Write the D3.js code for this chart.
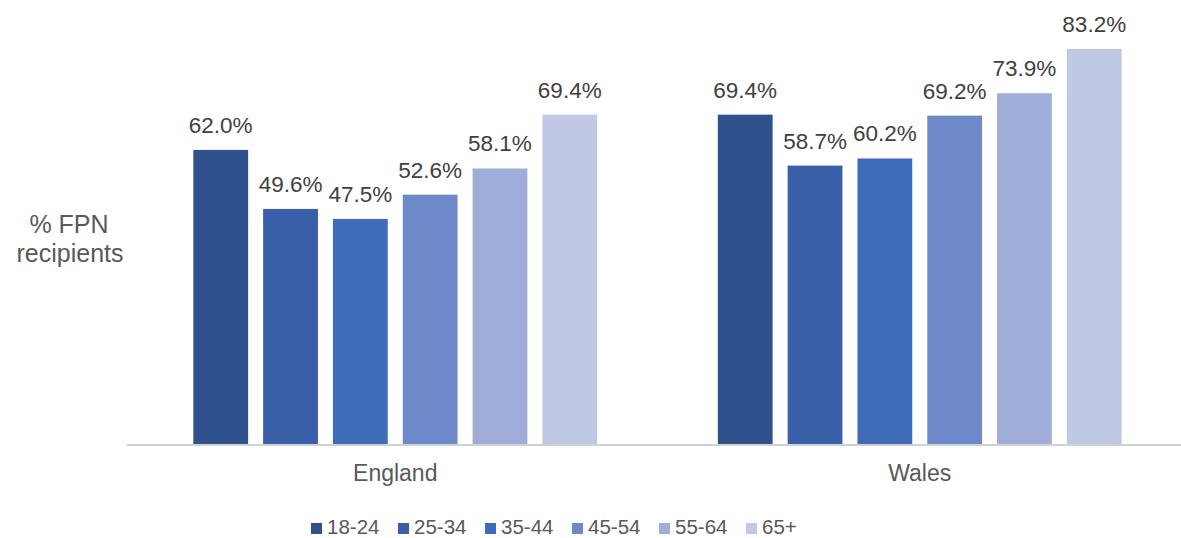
<!DOCTYPE html>
<html>
<head>
<meta charset="utf-8">
<script src="https://cdn.jsdelivr.net/npm/d3@7"></script>
<style>
  body { margin: 0; background: #fff; }
  text { font-family: "Liberation Sans", Arial, sans-serif; fill: #595959; }
</style>
</head>
<body>
<script>
// chart data
var regions = ["England", "Wales"];
var ageGroups = ["18-24", "25-34", "35-44", "45-54", "55-64", "65+"];
var england = [62.0, 49.6, 47.5, 52.6, 58.1, 69.4];
var wales = [69.4, 58.7, 60.2, 69.2, 73.9, 83.2];
var colours = ["#2F518C", "#385FA7", "#3E6BBA", "#6E89CA", "#9EAED8", "#BFC9E4"];

var width = 1181, height = 538;
var margin = {top: 10, right: 0, bottom: 93, left: 130};

var svg = d3.select("body").append("svg")
  .attr("width", width)
  .attr("height", height);

var rows = [england, wales].map(function(vals, i) {
  return {region: regions[i], values: vals.map(function(v, j) { return {age: ageGroups[j], value: v}; })};
});

// scales
var x0 = d3.scaleBand()
  .domain(regions)
  .range([margin.left + 3, width + 1])
  .paddingInner(0)
  .paddingOuter(0);

var x1 = d3.scaleBand()
  .domain(ageGroups)
  .range([x0.bandwidth() * 0.115, x0.bandwidth() * 0.885])
  .paddingInner(0.215);

var y = d3.scaleLinear()
  .domain([0, 83.2])
  .range([height - margin.bottom, 49]);

var colour = d3.scaleOrdinal().domain(ageGroups).range(colours);

// bars
var groups = svg.selectAll("g.region")
  .data(rows)
  .enter().append("g")
  .attr("class", "region")
  .attr("transform", function(d) { return "translate(" + x0(d.region) + ",0)"; });

groups.selectAll("rect")
  .data(function(d) { return d.values; })
  .enter().append("rect")
  .attr("x", function(d) { return x1(d.age); })
  .attr("y", function(d) { return y(d.value); })
  .attr("width", x1.bandwidth())
  .attr("height", function(d) { return y(0) - y(d.value); })
  .attr("fill", function(d) { return colour(d.age); });

// value labels
groups.selectAll("text.val")
  .data(function(d) { return d.values; })
  .enter().append("text")
  .attr("class", "val")
  .attr("x", function(d) { return x1(d.age) + x1.bandwidth() / 2; })
  .attr("y", function(d) { return y(d.value) - 17; })
  .attr("text-anchor", "middle")
  .style("font-size", "22.5px")
  .style("fill", "#404040")
  .text(function(d) { return d.value.toFixed(1) + "%"; });

// x axis
var xAxis = d3.axisBottom(x0).tickSize(0);
var gx = svg.append("g")
  .attr("transform", "translate(0," + y(0) + ")")
  .call(xAxis);
gx.select(".domain").attr("stroke", "#d0d0d0").attr("stroke-width", 2)
  .attr("d", "M127,0H" + width);
gx.selectAll("text")
  .attr("y", 36)
  .attr("dy", null)
  .style("font-size", "23px")
  .style("fill", "#595959")
  .style("font-family", "Liberation Sans, Arial, sans-serif");

// y title
var yTitle = svg.append("text")
  .attr("text-anchor", "middle")
  .style("font-size", "25px");
yTitle.append("tspan").attr("x", 69).attr("y", 233).text("% FPN");
yTitle.append("tspan").attr("x", 70).attr("y", 262).text("recipients");

// legend
var legend = svg.append("g").attr("transform", "translate(311,0)");
var items = legend.selectAll("g")
  .data(ageGroups)
  .enter().append("g")
  .attr("transform", function(d, i) { return "translate(" + (i * 87) + ",0)"; });
items.append("rect")
  .attr("y", 523)
  .attr("width", 11)
  .attr("height", 11)
  .attr("fill", function(d) { return colour(d); });
items.append("text")
  .attr("x", 16)
  .attr("y", 534)
  .style("font-size", "20.5px")
  .text(function(d) { return d; });
</script>
</body>
</html>
